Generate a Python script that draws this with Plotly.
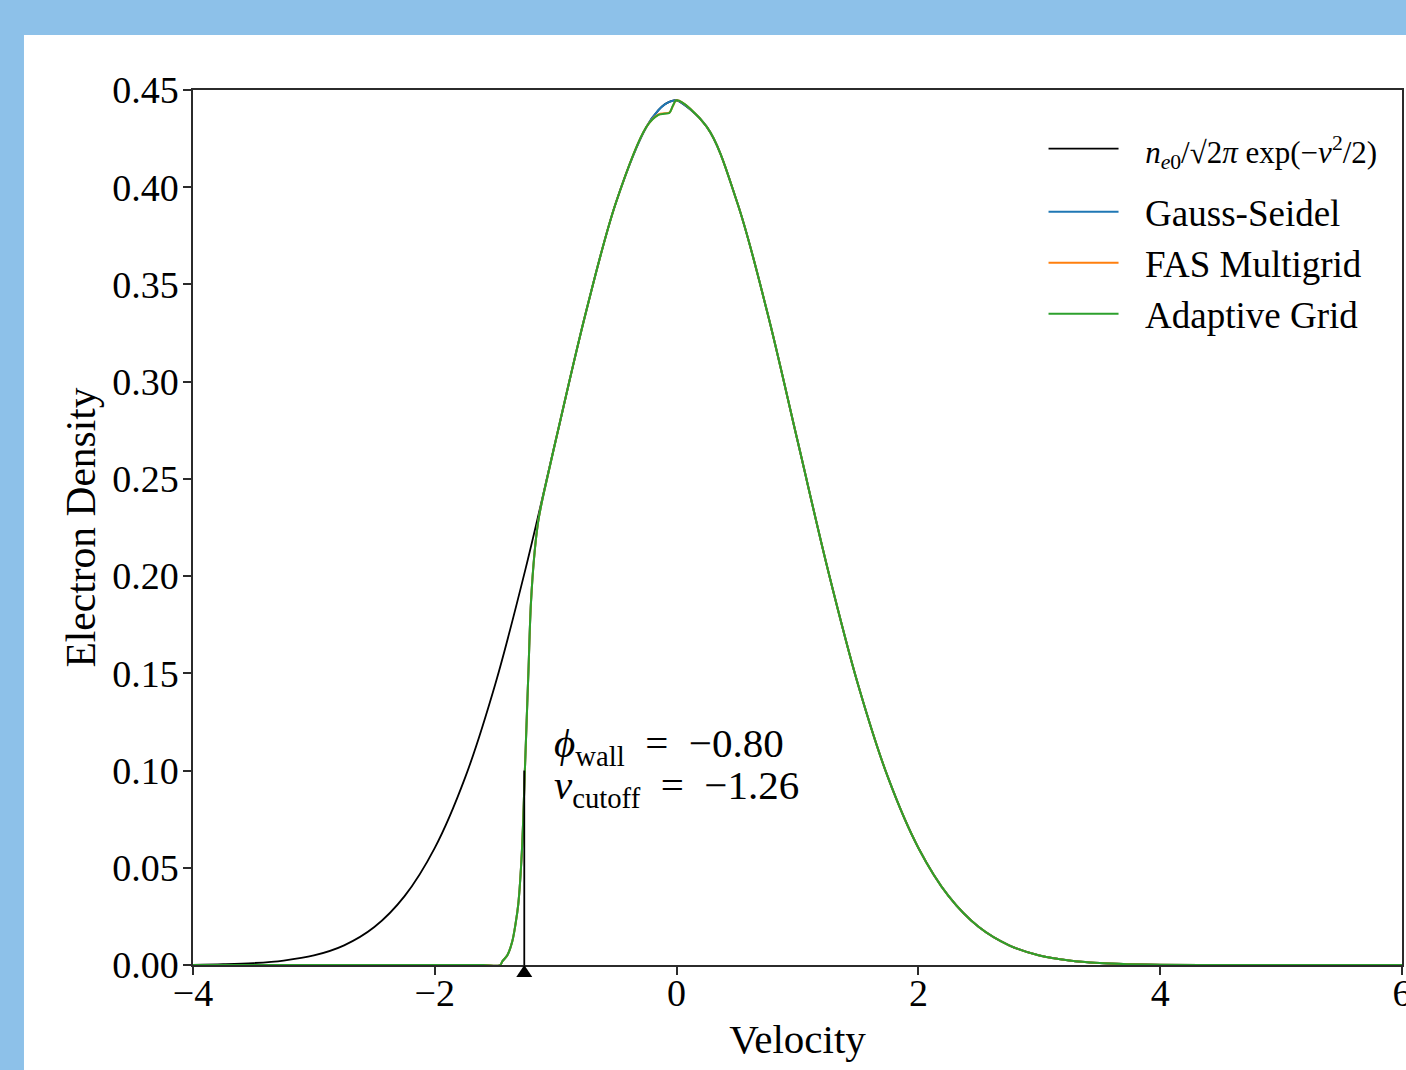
import plotly.graph_objects as go

# ---------------- data ----------------
v_max = [-4.0, -3.75, -3.5, -3.25, -3.0, -2.75, -2.5, -2.25, -2.0, -1.75, -1.5,
         -1.25, -1.0, -0.75, -0.5, -0.25, -0.15, -0.10, -0.06, -0.03, 0.0, 0.25, 0.5,
         0.75, 1.0, 1.25, 1.5, 1.75, 2.0, 2.25, 2.5, 2.75, 3.0, 3.25, 3.5, 3.75, 4.0,
         4.5, 5.0, 5.5, 6.0]
n_maxwell = [0.0001, 0.0004, 0.0010, 0.0023, 0.0049, 0.0101, 0.0195, 0.0354, 0.0602,
             0.0962, 0.1444, 0.2036, 0.2697, 0.3357, 0.3924, 0.4310, 0.4397, 0.4425,
             0.4439, 0.4445, 0.4447, 0.4310, 0.3924, 0.3357, 0.2697, 0.2036, 0.1444,
             0.0962, 0.0602, 0.0354, 0.0195, 0.0101, 0.0049, 0.0023, 0.0010, 0.0004,
             0.0001, 0.0, 0.0, 0.0, 0.0]

v_num = [-4.0, -3.0, -2.0, -1.6, -1.46, -1.44, -1.40, -1.36, -1.33, -1.31, -1.28,
         -1.255, -1.24, -1.225, -1.205, -1.175, -1.145, -1.115, -1.06, -1.0, -0.75,
         -0.5, -0.25, -0.15, -0.10, -0.06, -0.03, 0.0, 0.25, 0.5, 0.75, 1.0, 1.25,
         1.5, 1.75, 2.0, 2.25, 2.5, 2.75, 3.0, 3.25, 3.5, 3.75, 4.0, 4.5, 5.0, 5.5, 6.0]
n_gauss_seidel = [0.0, 0.0, 0.0, 0.0, 0.0, 0.002, 0.005, 0.012, 0.022, 0.031, 0.058,
                  0.100, 0.126, 0.152, 0.186, 0.212, 0.228, 0.238, 0.2533, 0.2697, 0.3357,
                  0.3924, 0.4310, 0.4397, 0.4425, 0.4439, 0.4445, 0.4447, 0.4310, 0.3924,
                  0.3357, 0.2697, 0.2036, 0.1444, 0.0962, 0.0602, 0.0354, 0.0195, 0.0101,
                  0.0049, 0.0023, 0.0010, 0.0004, 0.0001, 0.0, 0.0, 0.0, 0.0]
n_fas_multigrid = [0.0, 0.0, 0.0, 0.0, 0.0, 0.002, 0.005, 0.012, 0.022, 0.031, 0.058,
                   0.100, 0.126, 0.152, 0.186, 0.212, 0.228, 0.238, 0.2533, 0.2697, 0.3357,
                   0.3924, 0.4310, 0.4374, 0.4380, 0.4384, 0.4418, 0.4447, 0.4310, 0.3924,
                   0.3357, 0.2697, 0.2036, 0.1444, 0.0962, 0.0602, 0.0354, 0.0195, 0.0101,
                   0.0049, 0.0023, 0.0010, 0.0004, 0.0001, 0.0, 0.0, 0.0, 0.0]
n_adaptive = [0.0, 0.0, 0.0, 0.0, 0.0, 0.002, 0.005, 0.012, 0.022, 0.031, 0.058,
              0.100, 0.126, 0.152, 0.186, 0.212, 0.228, 0.238, 0.2533, 0.2697, 0.3357,
              0.3924, 0.4310, 0.4372, 0.4378, 0.4382, 0.4420, 0.4447, 0.4310, 0.3924,
              0.3357, 0.2697, 0.2036, 0.1444, 0.0962, 0.0602, 0.0354, 0.0195, 0.0101,
              0.0049, 0.0023, 0.0010, 0.0004, 0.0001, 0.0, 0.0, 0.0, 0.0]

phi_wall = -0.80
v_cutoff = -1.26
cutoff_line_y = [0.0, 0.10]

x_ticks = [-4, -2, 0, 2, 4, 6]
x_ticklabels = ["\u22124", "\u22122", "0", "2", "4", "6"]
y_ticks = [0.00, 0.05, 0.10, 0.15, 0.20, 0.25, 0.30, 0.35, 0.40, 0.45]
y_ticklabels = ["0.00", "0.05", "0.10", "0.15", "0.20", "0.25", "0.30", "0.35", "0.40", "0.45"]

# ---------------- figure ----------------
FONT = "Liberation Serif"
AX = "#2b2b2b"
PAD = "\u00a0\u00a0\u200a"
SMOOTH = 1.0

fig = go.Figure()
fig.add_trace(go.Scatter(
    x=v_max, y=n_maxwell, mode="lines", legendgroup="analytic",
    line=dict(color="black", width=1.8, shape="spline", smoothing=SMOOTH),
    name=PAD + "<span style=\"font-size:31px\"><i>n</i><sub><i>e</i>0</sub>/\u221a2<i>\u03c0</i>"
              " exp(\u2212<i>v</i><sup>2</sup>/2)</span>"))
fig.add_trace(go.Scatter(
    x=v_num, y=n_gauss_seidel, mode="lines", legendgroup="numeric",
    line=dict(color="#1f77b4", width=2, shape="spline", smoothing=SMOOTH),
    name=PAD + "Gauss-Seidel"))
fig.add_trace(go.Scatter(
    x=v_num, y=n_fas_multigrid, mode="lines", legendgroup="numeric",
    line=dict(color="#ff7f0e", width=2, shape="spline", smoothing=SMOOTH),
    name=PAD + "FAS Multigrid"))
fig.add_trace(go.Scatter(
    x=v_num, y=n_adaptive, mode="lines", legendgroup="numeric",
    line=dict(color="#2ca02c", width=2, shape="spline", smoothing=SMOOTH),
    name=PAD + "Adaptive Grid"))

# cutoff marker line
fig.add_trace(go.Scatter(
    x=[v_cutoff, v_cutoff], y=cutoff_line_y, mode="lines",
    line=dict(color="black", width=1.8), showlegend=False, hoverinfo="skip"))
# triangle just below the axis at v_cutoff
fig.add_shape(type="path", xref="x", yref="paper",
              xsizemode="pixel", ysizemode="pixel",
              xanchor=v_cutoff, yanchor=0,
              path="M0,0 L-8,-12 L8,-12 Z",
              fillcolor="black", line=dict(width=0), layer="above")

SP = "\u2002"
fig.add_annotation(
    x=-1.03, y=0.1125, xref="x", yref="y", xanchor="left", yanchor="middle",
    showarrow=False,
    text=f"<i>\u03d5</i><sub>wall</sub>{SP}={SP}\u2212{abs(phi_wall):.2f}",
    font=dict(family=FONT, size=41, color="black"))
fig.add_annotation(
    x=-1.03, y=0.0912, xref="x", yref="y", xanchor="left", yanchor="middle",
    showarrow=False,
    text=f"<i>v</i><sub>cutoff</sub>{SP}={SP}\u2212{abs(v_cutoff):.2f}",
    font=dict(family=FONT, size=41, color="black"))

# light blue frame behind the white figure area
fig.add_shape(type="rect", xref="paper", yref="paper",
              x0=-0.1398, x1=1.02, y0=-0.14, y1=1.0629,
              fillcolor="white", line=dict(width=0), layer="below")

fig.update_layout(
    width=1406, height=1070,
    margin=dict(l=193, r=4, t=90, b=105, autoexpand=False),
    paper_bgcolor="#8DC1E9", plot_bgcolor="white",
    font=dict(family=FONT, size=38, color="black"),
    showlegend=True,
    legend=dict(x=0.7035, y=0.968, xanchor="left", yanchor="top",
                bgcolor="rgba(255,255,255,0)", borderwidth=0,
                font=dict(family=FONT, size=37, color="black"),
                itemwidth=70, traceorder="grouped", tracegroupgap=12),
)
fig.update_xaxes(
    range=[-4, 6], tickvals=x_ticks, ticktext=x_ticklabels,
    ticks="outside", ticklen=8, tickwidth=1.5, tickcolor=AX,
    showline=True, linecolor=AX, linewidth=1.5, mirror=True,
    showgrid=False, zeroline=False, automargin=False,
    ticklabelstandoff=-14, ticklabeloverflow="allow",
    tickfont=dict(family=FONT, size=38, color="black"),
    title=dict(text="Velocity", font=dict(family=FONT, size=41, color="black"), standoff=11))
fig.update_yaxes(
    range=[0, 0.45], tickvals=y_ticks, ticktext=y_ticklabels,
    ticks="outside", ticklen=8, tickwidth=1.5, tickcolor=AX,
    showline=True, linecolor=AX, linewidth=1.5, mirror=True,
    showgrid=False, zeroline=False, automargin=False,
    ticklabelstandoff=-3, ticklabeloverflow="allow",
    tickfont=dict(family=FONT, size=38, color="black"),
    title=dict(text="Electron Density", font=dict(family=FONT, size=41.5, color="black"), standoff=4))

fig.write_html("out.html", config={"displayModeBar": False},
               post_script="document.body.style.margin='0';document.body.style.overflow='hidden';")
